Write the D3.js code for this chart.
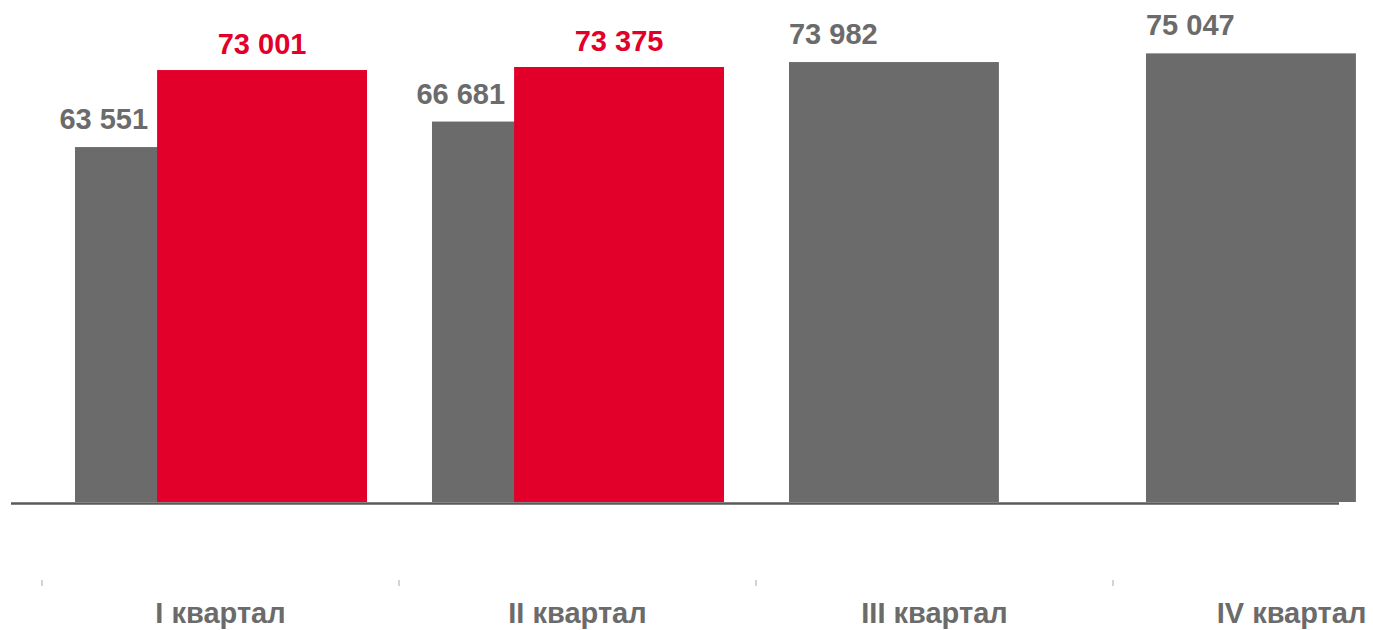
<!DOCTYPE html>
<html lang="ru">
<head>
    <meta charset="UTF-8">
    <title>Квартал</title>
    <script src="https://d3js.org/d3.v7.min.js"></script>
    <style>
        body { margin: 0; background: #fff; }
        svg { display: block; }
    </style>
</head>
<body>
<script type="text/javascript">
    var quarters = ["I квартал", "II квартал", "III квартал", "IV квартал"];
    var prevYear = [63551, 66681, 73982, 75047];
    var currYear = [73001, 73375, null, null];

    var svgWidth = 1373;
    var svgHeight = 630;
    var baseY = 502;
    var grey = "#6b6b6b";
    var red = "#e2002b";

    var fmt = function (v) {
        return d3.format(",")(v).replace(/,/g, " ");
    };

    var xScale = d3.scaleBand()
        .domain(quarters)
        .range([42, 42 + 357 * quarters.length])
        .paddingInner(0)
        .paddingOuter(0);
    var yScale = d3.scaleLinear()
        .domain([20000, 80000])
        .range([baseY, 13]);

    var bw = xScale.bandwidth();
    var barOffset = bw * 0.0924;
    var barWidth = bw * 0.588;
    var redShift = bw * 0.23;

    var svg = d3.select("body").append("svg")
        .attr("width", svgWidth)
        .attr("height", svgHeight)
        .style("font-family", "'Liberation Sans', Arial, sans-serif")
        .style("font-weight", "bold");

    var greyX = function (d, i) { return xScale(quarters[i]) + barOffset; };
    var redX = function (d, i) { return greyX(d, i) + redShift; };

    // previous year bars
    svg.selectAll("rect.prev")
        .data(prevYear)
        .enter()
        .append("rect")
        .attr("class", "prev")
        .attr("x", greyX)
        .attr("y", function (d) { return yScale(d); })
        .attr("width", barWidth)
        .attr("height", function (d) { return baseY - yScale(d); })
        .attr("fill", grey);

    // current year bars, overlapping
    var currData = currYear.map(function (v, i) { return {v: v, i: i}; })
        .filter(function (d) { return d.v != null; });

    svg.selectAll("rect.curr")
        .data(currData)
        .enter()
        .append("rect")
        .attr("class", "curr")
        .attr("x", function (d) { return redX(d.v, d.i); })
        .attr("y", function (d) { return yScale(d.v); })
        .attr("width", barWidth)
        .attr("height", function (d) { return baseY - yScale(d.v); })
        .attr("fill", red);

    // baseline
    svg.append("line")
        .attr("x1", 11)
        .attr("x2", 1339)
        .attr("y1", baseY + 1.5)
        .attr("y2", baseY + 1.5)
        .attr("stroke", "#5a5a5a")
        .attr("stroke-width", 2.5);

    // value labels
    svg.selectAll("text.prevLabel")
        .data(prevYear)
        .enter()
        .append("text")
        .attr("class", "prevLabel")
        .attr("x", function (d, i) {
            return currYear[i] != null ? redX(d, i) - 9 : greyX(d, i);
        })
        .attr("y", function (d) { return yScale(d) - 18; })
        .attr("text-anchor", function (d, i) { return currYear[i] != null ? "end" : "start"; })
        .attr("font-size", "29px")
        .attr("fill", grey)
        .text(fmt);

    svg.selectAll("text.currLabel")
        .data(currData)
        .enter()
        .append("text")
        .attr("class", "currLabel")
        .attr("x", function (d) { return redX(d.v, d.i) + barWidth / 2; })
        .attr("y", function (d) { return yScale(d.v) - 16; })
        .attr("text-anchor", "middle")
        .attr("font-size", "29px")
        .attr("fill", red)
        .text(function (d) { return fmt(d.v); });

    // category axis below
    svg.selectAll("line.sep")
        .data(quarters)
        .enter()
        .append("line")
        .attr("class", "sep")
        .attr("x1", function (d) { return xScale(d); })
        .attr("x2", function (d) { return xScale(d); })
        .attr("y1", 580)
        .attr("y2", 586)
        .attr("stroke", "#a6a6a6")
        .attr("stroke-width", 1);

    svg.selectAll("text.cat")
        .data(quarters)
        .enter()
        .append("text")
        .attr("class", "cat")
        .attr("x", function (d) { return xScale(d) + bw / 2; })
        .attr("y", 623)
        .attr("text-anchor", "middle")
        .attr("font-size", "29px")
        .attr("fill", grey)
        .text(function (d) { return d; });
</script>
</body>
</html>
